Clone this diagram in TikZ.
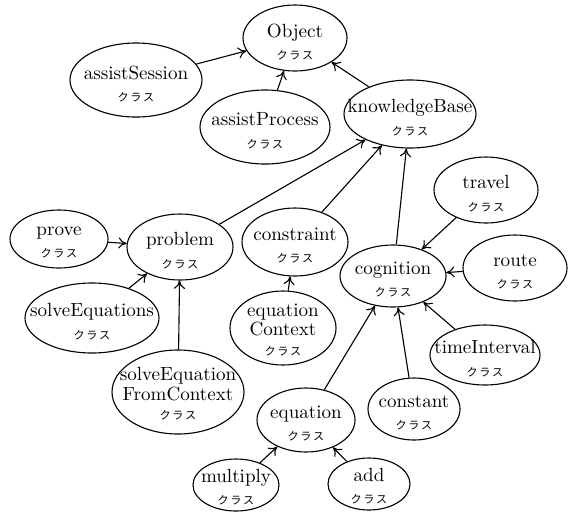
\documentclass[tikz,border=0pt]{standalone}
\usepackage{fontspec}
\newfontfamily\jpfont{Noto Sans CJK JP}
\usetikzlibrary{shapes.geometric,arrows.meta}
\newcommand\kls{{\jpfont\fontsize{6}{6.5}\selectfont ク\hspace{0.9pt}ラ\hspace{0.9pt}ス}}
\begin{document}
\begin{tikzpicture}[x=0.54pt,y=-0.54pt,
  cl/.style n args={2}{ellipse,draw,line width=0.6pt,inner sep=0pt,
    minimum width=#1*1.08pt,minimum height=#2*1.08pt},
  txt/.style={align=center,inner sep=0pt,font=\fontsize{10.3}{12}\selectfont},
  txttwo/.style={align=center,inner sep=0pt,font=\fontsize{10.3}{10.5}\selectfont},
  link/.style={-{To[length=4.5pt,width=6pt]},line width=0.6pt}]
\useasboundingbox (0,0) rectangle (568,511);
\node[cl={52}{33}] (object) at (295,38) {};
\node[txt] (objectt) at ([yshift=-2pt]object.center) {Object\\\kls};
\node[cl={66}{37}] (session) at (136,80) {};
\node[txt] (sessiont) at ([yshift=-2pt]session.center) {assistSession\\\kls};
\node[cl={65}{37}] (process) at (265,127) {};
\node[txt] (processt) at ([yshift=-2pt]process.center) {assistProcess\\\kls};
\node[cl={66}{34}] (kb) at (410,114) {};
\node[txt] (kbt) at ([yshift=-2pt]kb.center) {knowledgeBase\\\kls};
\node[cl={52}{33}] (travel) at (486,190) {};
\node[txt] (travelt) at ([yshift=-2pt]travel.center) {travel\\\kls};
\node[cl={53}{31}] (cog) at (393,276) {};
\node[txt] (cogt) at ([yshift=-2pt]cog.center) {cognition\\\kls};
\node[cl={52}{33}] (route) at (515,268) {};
\node[txt] (routet) at ([yshift=-2pt]route.center) {route\\\kls};
\node[cl={53}{34}] (constraint) at (295,242) {};
\node[txt] (constraintt) at ([yshift=-2pt]constraint.center) {constraint\\\kls};
\node[cl={53}{33}] (problem) at (180,247) {};
\node[txt] (problemt) at ([yshift=-2pt]problem.center) {problem\\\kls};
\node[cl={49}{29}] (prove) at (59,239) {};
\node[txt] (provet) at ([yshift=-2pt]prove.center) {prove\\\kls};
\node[cl={67}{35}] (solveeqs) at (92,318) {};
\node[txt] (solveeqst) at ([yshift=-2pt]solveeqs.center) {solveEquations\\\kls};
\node[cl={53}{37}] (eqctx) at (283,328) {};
\node[txttwo] (eqctxt) at ([yshift=-1pt]eqctx.center) {equation\\Context\\\kls};
\node[cl={66}{42}] (sefc) at (178,392) {};
\node[txttwo] (sefct) at ([yshift=-1pt]sefc.center) {solveEquation\\FromContext\\\kls};
\node[cl={55}{30}] (time) at (485,355) {};
\node[txt] (timet) at ([yshift=-2pt]time.center) {timeInterval\\\kls};
\node[cl={46}{31}] (constant) at (414,409) {};
\node[txt] (constantt) at ([yshift=-2pt]constant.center) {constant\\\kls};
\node[cl={49}{32}] (equation) at (306,420) {};
\node[txt] (equationt) at ([yshift=-2pt]equation.center) {equation\\\kls};
\node[cl={43}{26}] (multiply) at (236,485) {};
\node[txt] (multiplyt) at ([yshift=-1pt]multiply.center) {multiply\\\kls};
\node[cl={41}{26}] (add) at (369,484) {};
\node[txt] (addt) at ([yshift=-1pt]add.center) {add\\\kls};
\draw[link] (session) -- (object);
\draw[link] (process) -- (object);
\draw[link] (kb) -- (object);
\draw[link] (problem) -- (kb);
\draw[link] (constraint) -- (kb);
\draw[link] (cog) -- (kb);
\draw[link] (prove) -- (problem);
\draw[link] (solveeqs) -- (problem);
\draw[link] (sefc) -- (problem);
\draw[link] (eqctx) -- (constraint);
\draw[link] (travel) -- (cog);
\draw[link] (route) -- (cog);
\draw[link] (time) -- (cog);
\draw[link] (constant) -- (cog);
\draw[link] (equation) -- (cog);
\draw[link] (multiply) -- (equation);
\draw[link] (add) -- (equation);
\end{tikzpicture}
\end{document}
